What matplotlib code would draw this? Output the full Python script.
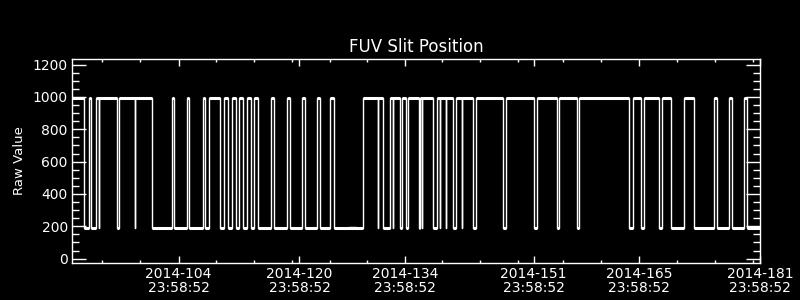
import matplotlib
matplotlib.use("Agg")
import matplotlib.pyplot as plt

# day-of-year (2014) where the slit goes to the high position and back
high_start = [90.87, 93.12, 94.09, 97.05, 104.07, 106.14, 108.18, 109.05, 111.00, 112.06,
              113.03, 114.08, 115.01, 117.26, 119.34, 121.37, 123.36, 125.08, 129.45, 132.98,
              134.57, 135.41, 137.00, 139.21, 141.76, 144.44, 148.35, 152.49, 155.40, 158.05,
              165.20, 166.66, 169.04, 171.96, 175.93, 177.92, 179.90]
high_end = [92.50, 93.43, 96.79, 101.50, 104.42, 106.40, 108.44, 110.51, 111.49, 112.55,
            113.48, 114.54, 115.46, 117.66, 119.70, 121.73, 123.75, 125.53, 132.10, 134.35,
            135.06, 136.78, 138.72, 141.37, 144.01, 147.99, 152.01, 155.06, 157.71, 164.67,
            166.26, 168.65, 170.24, 173.28, 176.33, 178.31, 180.30]
# short dips to the low position inside a high stretch
spike_days = [94.48, 99.25, 131.43, 133.42, 137.22, 139.64, 140.40, 142.48]
high_value = 995
low_value = 190
# slightly raised low stretch (data gap)
gap_days = [127.55, 128.48]
gap_value = 198

t_start, t_end = 90.87, 182.0
major_days = [104.999, 120.999, 134.999, 151.999, 165.999, 181.999]
major_labels = ["2014-104\n23:58:52", "2014-120\n23:58:52", "2014-134\n23:58:52",
                "2014-151\n23:58:52", "2014-165\n23:58:52", "2014-181\n23:58:52"]
minor_days = [94.88, 99.91, 109.98, 114.93, 120.0, 125.07, 129.97, 139.91, 144.94,
              149.97, 155.93, 160.96, 171.03, 176.06, 181.01]

# build the step path
tt, vv = [], []
for i, (s, e) in enumerate(zip(high_start, high_end)):
    if i > 0:
        tt.append(s); vv.append(low_value)
    tt.append(s); vv.append(high_value)
    for sp in spike_days:
        if s < sp < e:
            tt += [sp, sp, sp + 0.03, sp + 0.03]
            vv += [high_value, low_value, low_value, high_value]
    tt += [e, e]
    vv += [high_value, low_value]
    if gap_days[0] > e and (i + 1 < len(high_start) and gap_days[1] < high_start[i + 1]):
        tt += [gap_days[0], gap_days[0], gap_days[1], gap_days[1]]
        vv += [low_value, gap_value, gap_value, low_value]
tt.append(t_end); vv.append(low_value)

low_start = high_end
low_end = high_start[1:] + [t_end]

fig = plt.figure(figsize=(8, 3), dpi=100, facecolor="black")
ax = fig.add_axes([0.09, 0.1233, 0.86, 0.68])
ax.set_facecolor("black")

ax.plot(tt, vv, color="white", lw=1.0)
ax.hlines([high_value] * len(high_start), high_start, high_end, color="white", lw=2.2)
ax.hlines([low_value] * len(low_start), low_start, low_end, color="white", lw=2.2)

ax.set_xlim(t_start, t_end)
ax.set_ylim(-27, 1235)
ax.set_yticks([0, 200, 400, 600, 800, 1000, 1200])
ax.set_yticks(range(50, 1235, 50), minor=True)
ax.set_xticks(major_days)
ax.set_xticklabels(major_labels, linespacing=1.0)
ax.set_xticks(minor_days, minor=True)

for sp in ax.spines.values():
    sp.set_color("white")
    sp.set_linewidth(1.0)

ax.tick_params(which="both", direction="in", colors="white", top=True, right=True,
               labelsize=10, width=1.0)
ax.tick_params(axis="y", which="major", length=10, pad=3)
ax.tick_params(axis="y", which="minor", length=5)
ax.tick_params(axis="x", which="major", length=5, pad=3)
ax.tick_params(axis="x", which="minor", length=2.5)

ax.set_title("FUV Slit Position", color="white", fontsize=12, pad=5)
ax.set_ylabel("Raw Value", color="white", fontsize=9.5, labelpad=5)

fig.savefig("out.png", dpi=100, facecolor="black")
